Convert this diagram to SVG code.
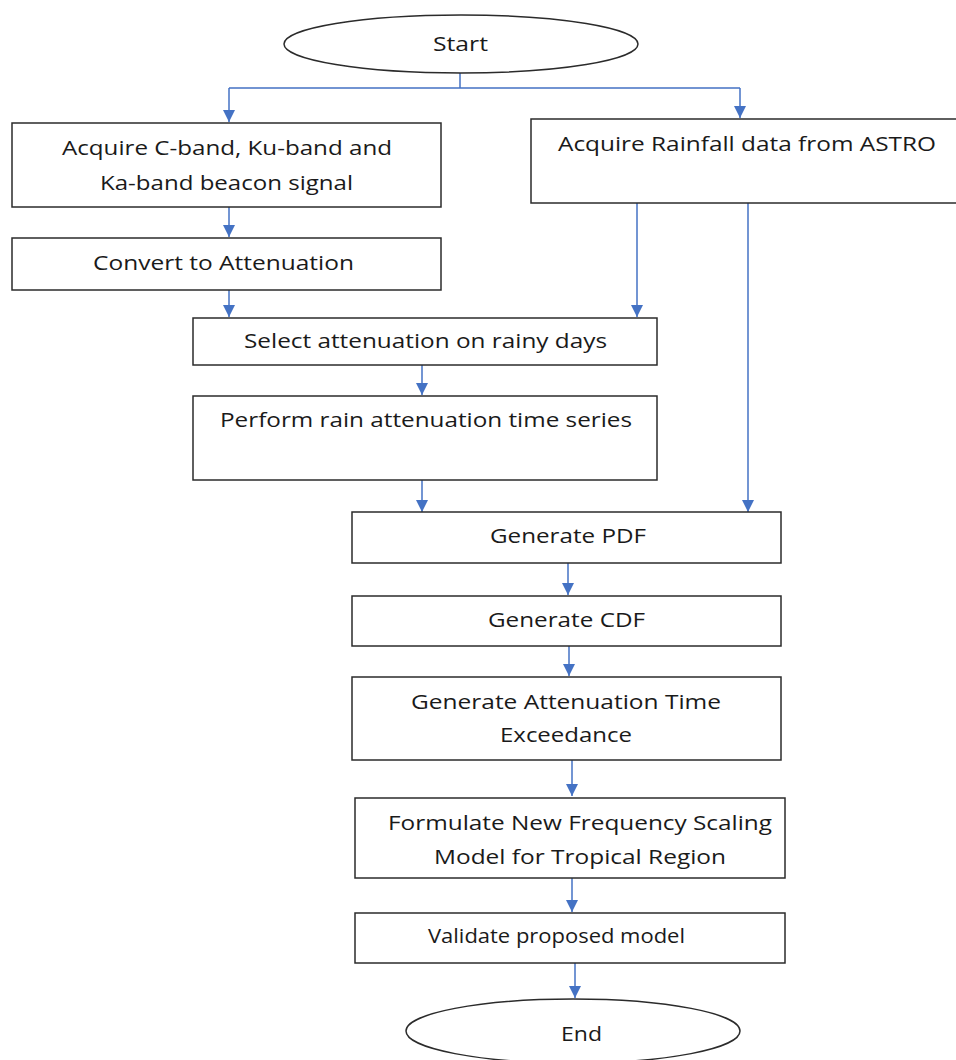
<svg xmlns="http://www.w3.org/2000/svg" width="956" height="1060" viewBox="0 0 956 1060">
<style>
.box{fill:#fff;stroke:#2b2b2b;stroke-width:1.5}
.t{font-family:"Open Sans","Liberation Sans",sans-serif;font-size:20px;fill:#1a1a1a}
.c{fill:none;stroke:#4472C4;stroke-width:1.5}
</style>
<defs>
<marker id="ah" viewBox="0 0 10 10" refX="10" refY="5" markerWidth="12" markerHeight="12" markerUnits="userSpaceOnUse" orient="auto">
<path d="M0,0 L10,5 L0,10 z" fill="#4472C4"/>
</marker>
</defs>
<rect width="956" height="1060" fill="#fff"/>
<g id="connectors">
<path class="c" d="M460,73 V88 M229,88 H740"/>
<path class="c" d="M229,88 V122" marker-end="url(#ah)"/>
<path class="c" d="M740,88 V118" marker-end="url(#ah)"/>
<path class="c" d="M229,207 V237" marker-end="url(#ah)"/>
<path class="c" d="M229,290 V317" marker-end="url(#ah)"/>
<path class="c" d="M637,203 V317" marker-end="url(#ah)"/>
<path class="c" d="M748,203 V512" marker-end="url(#ah)"/>
<path class="c" d="M422,365 V395" marker-end="url(#ah)"/>
<path class="c" d="M422,480 V512" marker-end="url(#ah)"/>
<path class="c" d="M568,563 V595" marker-end="url(#ah)"/>
<path class="c" d="M569,646 V676" marker-end="url(#ah)"/>
<path class="c" d="M572,760 V796" marker-end="url(#ah)"/>
<path class="c" d="M572,878 V912" marker-end="url(#ah)"/>
<path class="c" d="M575,963 V998" marker-end="url(#ah)"/>
</g>
<g id="start">
<ellipse class="box" cx="461" cy="44" rx="177" ry="29"/>
<text class="t" x="433" y="51" textLength="55" lengthAdjust="spacingAndGlyphs">Start</text>
</g>
<g id="acquire-beacon">
<rect class="box" x="12" y="123" width="429" height="84"/>
<text class="t" x="62" y="155" textLength="330" lengthAdjust="spacingAndGlyphs">Acquire C-band, Ku-band and</text>
<text class="t" x="100" y="190" textLength="253" lengthAdjust="spacingAndGlyphs">Ka-band beacon signal</text>
</g>
<g id="acquire-rainfall">
<rect class="box" x="531" y="119" width="430" height="84"/>
<text class="t" x="558" y="151" textLength="378" lengthAdjust="spacingAndGlyphs">Acquire Rainfall data from ASTRO</text>
</g>
<g id="convert">
<rect class="box" x="12" y="238" width="429" height="52"/>
<text class="t" x="93" y="270" textLength="261" lengthAdjust="spacingAndGlyphs">Convert to Attenuation</text>
</g>
<g id="select">
<rect class="box" x="193" y="318" width="464" height="47"/>
<text class="t" x="244" y="348" textLength="363" lengthAdjust="spacingAndGlyphs">Select attenuation on rainy days</text>
</g>
<g id="perform">
<rect class="box" x="193" y="396" width="464" height="84"/>
<text class="t" x="220" y="427" textLength="412" lengthAdjust="spacingAndGlyphs">Perform rain attenuation time series</text>
</g>
<g id="pdf">
<rect class="box" x="352" y="512" width="429" height="51"/>
<text class="t" x="490" y="543" textLength="156" lengthAdjust="spacingAndGlyphs">Generate PDF</text>
</g>
<g id="cdf">
<rect class="box" x="352" y="596" width="429" height="50"/>
<text class="t" x="488" y="627" textLength="157" lengthAdjust="spacingAndGlyphs">Generate CDF</text>
</g>
<g id="exceedance">
<rect class="box" x="352" y="677" width="429" height="83"/>
<text class="t" x="411" y="709" textLength="310" lengthAdjust="spacingAndGlyphs">Generate Attenuation Time</text>
<text class="t" x="500" y="742" textLength="132" lengthAdjust="spacingAndGlyphs">Exceedance</text>
</g>
<g id="formulate">
<rect class="box" x="355" y="798" width="430" height="80"/>
<text class="t" x="388" y="830" textLength="384" lengthAdjust="spacingAndGlyphs">Formulate New Frequency Scaling</text>
<text class="t" x="434" y="864" textLength="292" lengthAdjust="spacingAndGlyphs">Model for Tropical Region</text>
</g>
<g id="validate">
<rect class="box" x="355" y="913" width="430" height="50"/>
<text class="t" x="428" y="943" textLength="257" lengthAdjust="spacingAndGlyphs">Validate proposed model</text>
</g>
<g id="end">
<ellipse class="box" cx="573" cy="1031" rx="167" ry="32"/>
<text class="t" x="561" y="1041" textLength="41" lengthAdjust="spacingAndGlyphs">End</text>
</g>
</svg>
